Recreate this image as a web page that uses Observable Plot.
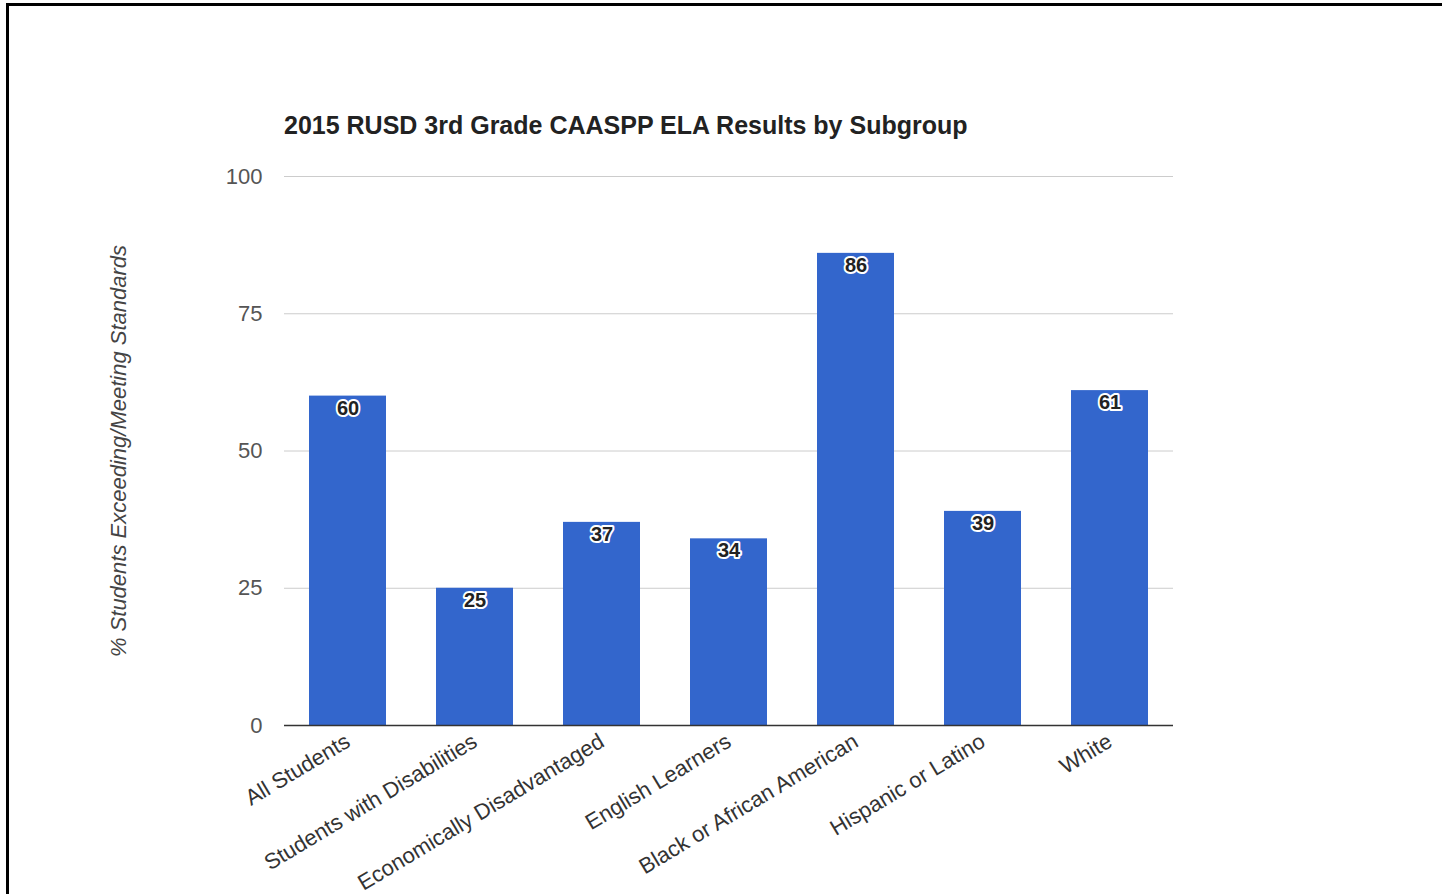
<!DOCTYPE html>
<html>
<head>
<meta charset="utf-8">
<script src="https://cdn.jsdelivr.net/npm/d3@7"></script>
<script src="https://cdn.jsdelivr.net/npm/@observablehq/plot@0.6"></script>
<style>
  html, body { margin: 0; padding: 0; background: #fff; overflow: hidden; }
  #wrap { position: relative; width: 1442px; height: 894px; }
  #border { position: absolute; left: 6px; top: 3px; width: 1500px; height: 1000px;
            border-top: 3px solid #000; border-left: 3px solid #000; box-sizing: border-box; }
  #title { position: absolute; left: 284px; top: 111px; font-family: "Liberation Sans", Arial, sans-serif;
           font-weight: bold; font-size: 25px; color: #222; white-space: nowrap; }
  #chart { position: absolute; left: 0; top: 0; }
  #chart svg { font-family: "Liberation Sans", Arial, sans-serif; }
</style>
</head>
<body>
<div id="wrap">
  <div id="chart"></div>
  <div id="border"></div>
  <div id="title">2015 RUSD 3rd Grade CAASPP ELA Results by Subgroup</div>
</div>
<script>
const categories = ["All Students", "Students with Disabilities", "Economically Disadvantaged", "English Learners", "Black or African American", "Hispanic or Latino", "White"];
const values = [60, 25, 37, 34, 86, 39, 61];
const yTicks = [0, 25, 50, 75, 100];
const yLabel = "% Students Exceeding/Meeting Standards";

const data = categories.map((c, i) => ({category: c, value: values[i]}));

const chart = Plot.plot({
  width: 1442,
  height: 894,
  marginLeft: 284,
  marginRight: 269,
  marginTop: 176,
  marginBottom: 169,
  style: {fontFamily: '"Liberation Sans", Arial, sans-serif', background: "transparent"},
  x: {domain: categories, paddingInner: 0.394, paddingOuter: 0.197},
  y: {domain: [0, 100]},
  marks: [
    Plot.gridY(yTicks, {stroke: "#cccccc", strokeOpacity: 1, strokeWidth: 1}),
    Plot.barY(data, {x: "category", y: "value", fill: "#3366cc"}),
    Plot.ruleY([0], {stroke: "#333333", strokeWidth: 1.5}),
    Plot.axisY({ticks: yTicks, tickSize: 0, tickPadding: 22, fontSize: 22, color: "#555", label: null}),
    Plot.axisX({tickSize: 0, tickRotate: -31, tickPadding: 14, fontSize: 22, color: "#333", label: null}),
    Plot.text(data, {x: "category", y: "value", text: d => String(d.value), dy: 12, fill: "#222",
      stroke: "white", strokeWidth: 4, fontSize: 20, fontWeight: "bold"}),
    Plot.text([yLabel], {frameAnchor: "left", dx: -166, rotate: -90, textAnchor: "middle", fontSize: 22, fontStyle: "italic",
      fill: "#444", text: d => d})
  ]
});
document.getElementById("chart").appendChild(chart);
</script>
</body>
</html>
